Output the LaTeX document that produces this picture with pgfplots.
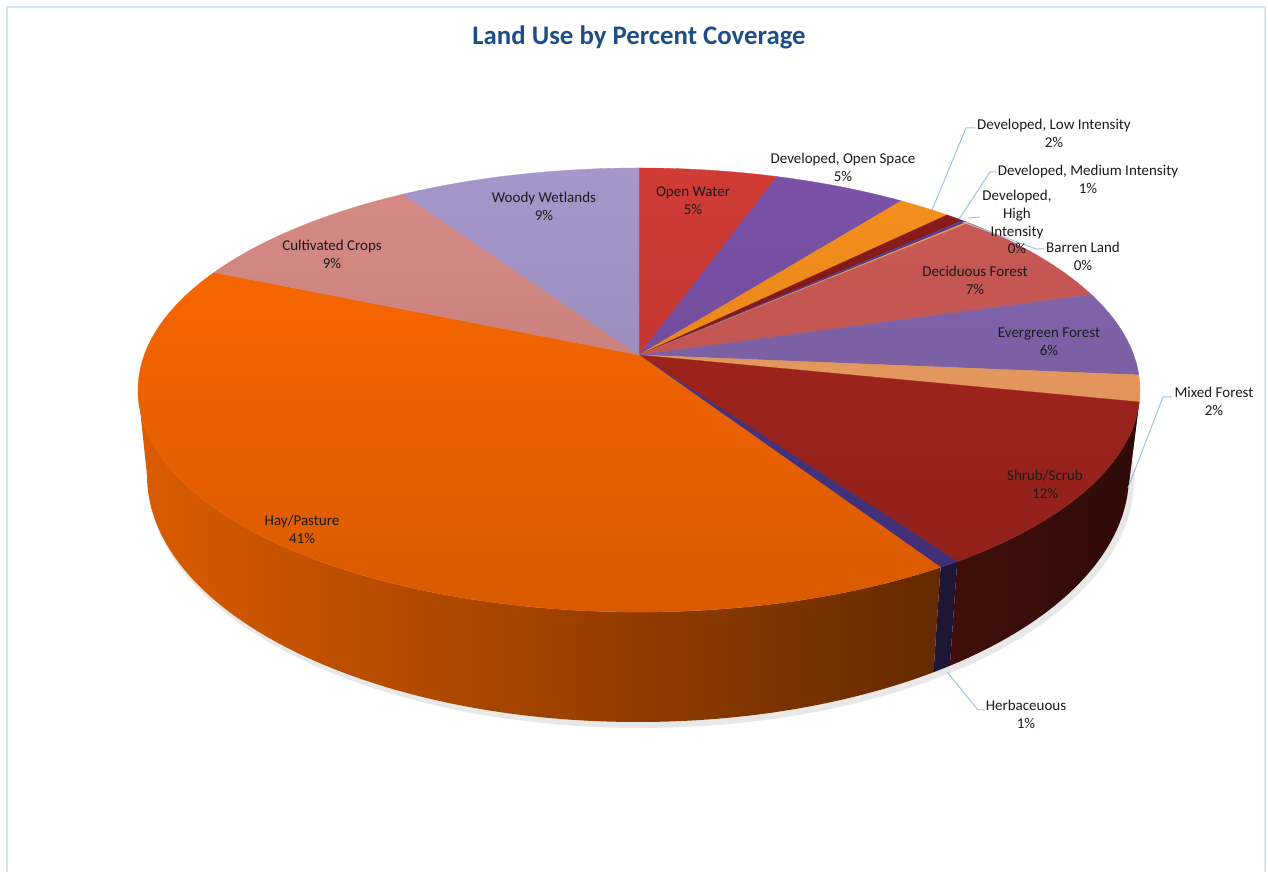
\documentclass[border=0pt]{standalone}
\usepackage{pgfplots}
\pgfplotsset{compat=1.18}
\usepackage{fontspec}
\setmainfont{Carlito}
\definecolor{cOW}{HTML}{D13B36}
\definecolor{cDOS}{HTML}{7B52A8}
\definecolor{cLow}{HTML}{F7901E}
\definecolor{cMed}{HTML}{8B1B1B}
\definecolor{cHigh}{HTML}{5B3E8E}
\definecolor{cBar}{HTML}{F0A050}
\definecolor{cDec}{HTML}{CD5B57}
\definecolor{cEve}{HTML}{8567B0}
\definecolor{cMix}{HTML}{F4A263}
\definecolor{cShr}{HTML}{A8261F}
\definecolor{cHerb}{HTML}{4B3888}
\definecolor{cHay}{HTML}{FF6A00}
\definecolor{cCul}{HTML}{D88B86}
\definecolor{cWoo}{HTML}{A697CB}
\definecolor{titleblue}{HTML}{1F4E86}
\definecolor{leader}{HTML}{9DC3E6}
\definecolor{frame}{HTML}{D8E4EE}
\definecolor{labeltext}{HTML}{1A1A1A}
% percent coverage of each land use, clockwise from 12 o'clock
\def\slices{5.2/cOW, 5.0/cDOS, 2.0/cLow, 0.7/cMed, 0.2/cHigh, 0.1/cBar, 7.0/cDec, 6.1/cEve, 1.9/cMix, 12.2/cShr, 0.6/cHerb, 40.7/cHay, 9.2/cCul, 9.1/cWoo}
\begin{document}
\begin{tikzpicture}
\begin{axis}[
  width=634pt, height=436pt, scale only axis,
  xmin=0, xmax=1268, ymin=0, ymax=872,
  hide axis, clip=false,
]
\pgfplotsextra{
  \path (axis cs:0,0) rectangle (axis cs:1268,872);
  \draw[frame, line width=0.75pt] (axis cs:7,0) -- (axis cs:7,865) -- (axis cs:1265,865) -- (axis cs:1265,0);
  % shadow
  \fill[black!9] (axis cs:641,393) ellipse[x radius=246.5pt, y radius=124.5pt];
  % side walls, shaded darker to the right
  \xdef\cum{0}
  \foreach \v/\c in \slices {
    \pgfmathsetmacro\aA{90-3.6*\cum}
    \pgfmathsetmacro\aB{90-3.6*(\cum+\v)}
    \pgfmathsetmacro\pA{\aA+8.594*cos(\aA)}
    \pgfmathsetmacro\pB{\aB+8.594*cos(\aB)}
    \pgfmathsetmacro\sA{min(\pA,0)}
    \pgfmathsetmacro\sB{max(\pB,-180)}
    \pgfmathtruncatemacro\vis{\sA>\sB}
    \ifnum\vis=1
      \pgfmathsetmacro\xA{639+501*cos(\sA)}
      \pgfmathsetmacro\yA{482+222*sin(\sA)}
      \pgfmathsetmacro\xB{638+491*cos(\sB)}
      \pgfmathsetmacro\yB{397+247*sin(\sB)}
      \pgfmathsetmacro\xl{639+501*cos(\sB)}
      \pgfmathtruncatemacro\fl{86-58*((\xl-138)/1002)}
      \pgfmathtruncatemacro\fr{86-58*((\xA-138)/1002)}
      \shade[left color=\c!\fl!black, right color=\c!\fr!black]
        (axis cs:\xA,\yA) arc[start angle=\sA, end angle=\sB, x radius=250.5pt, y radius=111pt]
        -- (axis cs:\xB,\yB) arc[start angle=\sB, end angle=\sA, x radius=245.5pt, y radius=123.5pt] -- cycle;
    \fi
    \pgfmathsetmacro\nc{\cum+\v}\xdef\cum{\nc}
  }
  % top faces
  \xdef\cum{0}
  \foreach \v/\c in \slices {
    \pgfmathsetmacro\aA{90-3.6*\cum}
    \pgfmathsetmacro\aB{90-3.6*(\cum+\v)}
    \pgfmathsetmacro\pA{\aA+8.594*cos(\aA)}
    \pgfmathsetmacro\pB{\aB+8.594*cos(\aB)}
    \pgfmathsetmacro\xA{639+501*cos(\pA)}
    \pgfmathsetmacro\yA{482+222*sin(\pA)}
    \fill[fill=\c, draw=\c, line width=0.15pt] (axis cs:639,517) -- (axis cs:\xA,\yA)
      arc[start angle=\pA, end angle=\pB, x radius=250.5pt, y radius=111pt] -- cycle;
    \pgfmathsetmacro\nc{\cum+\v}\xdef\cum{\nc}
  }
  % gentle darkening of the top toward the front
  \begin{scope}
    \clip (axis cs:639,482) ellipse[x radius=250.5pt, y radius=111pt];
    \foreach \j in {0,...,44} {
      \pgfmathsetmacro\yt{704-10*\j}
      \pgfmathsetmacro\yb{704-10*(\j+1)}
      \pgfmathsetmacro\op{0.15*\j/44}
      \fill[black, opacity=\op] (axis cs:130,\yt) rectangle (axis cs:1150,\yb);
    }
  \end{scope}
  % title
  \node[font=\fontsize{13.4}{16}\selectfont\bfseries, text=titleblue] at (axis cs:639,835) {Land Use by Percent Coverage};
  % leader lines
  \draw[leader, line width=0.5pt] (axis cs:932,662) -- (axis cs:966,744) -- (axis cs:975,744);
  \draw[leader, line width=0.5pt] (axis cs:959,653) -- (axis cs:990,700) -- (axis cs:996,700);
  \draw[leader, line width=0.5pt] (axis cs:968,654) -- (axis cs:980,655);
  \draw[leader, line width=0.5pt] (axis cs:963,650) -- (axis cs:1036,623) -- (axis cs:1044,623);
  \draw[leader, line width=0.5pt] (axis cs:1128,384) -- (axis cs:1163,475) -- (axis cs:1172,475);
  \draw[leader, line width=0.5pt] (axis cs:947,200) -- (axis cs:978,162) -- (axis cs:984,162);
  % labels
  \tikzset{lbl/.style={font=\fontsize{7.5}{8.9}\selectfont, text=labeltext, align=center, inner sep=0pt}}
  \node[lbl] at (axis cs:693,671) {Open Water\\5\%};
  \node[lbl] at (axis cs:843,705) {Developed, Open Space\\5\%};
  \node[lbl] at (axis cs:1054,739) {Developed, Low Intensity\\2\%};
  \node[lbl] at (axis cs:1088,693) {Developed, Medium Intensity\\1\%};
  \node[lbl] at (axis cs:1017,650) {Developed,\\High\\Intensity\\0\%};
  \node[lbl] at (axis cs:1083,616) {Barren Land\\0\%};
  \node[lbl] at (axis cs:975,592) {Deciduous Forest\\7\%};
  \node[lbl] at (axis cs:1049,530) {Evergreen Forest\\6\%};
  \node[lbl] at (axis cs:1214,471) {Mixed Forest\\2\%};
  \node[lbl] at (axis cs:1045,388) {Shrub/Scrub\\12\%};
  \node[lbl] at (axis cs:1026,158) {Herbaceuous\\1\%};
  \node[lbl] at (axis cs:302,343) {Hay/Pasture\\41\%};
  \node[lbl] at (axis cs:332,618) {Cultivated Crops\\9\%};
  \node[lbl] at (axis cs:544,666) {Woody Wetlands\\9\%};
}
\end{axis}
\end{tikzpicture}
\end{document}
